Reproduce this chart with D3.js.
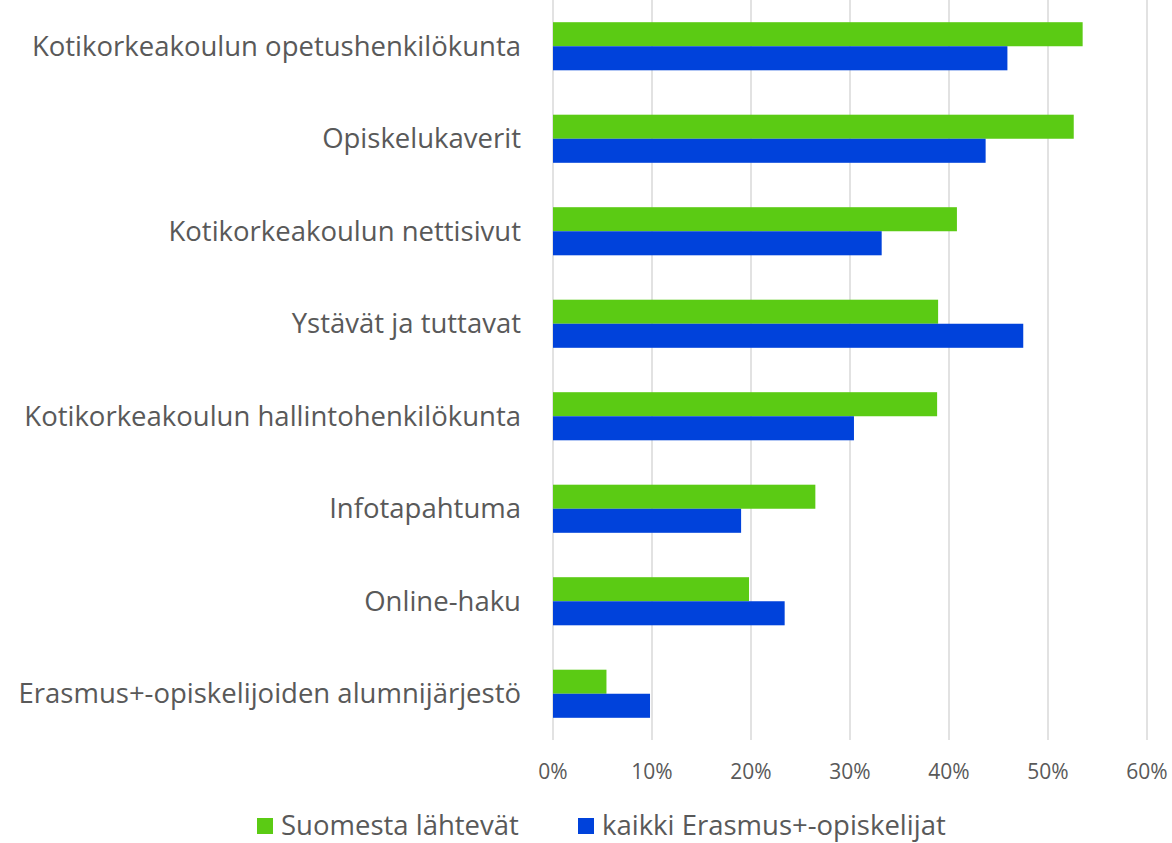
<!DOCTYPE html>
<html>
<head>
<meta charset="utf-8">
<script src="https://cdn.jsdelivr.net/npm/d3@7"></script>
<style>
  body { margin: 0; background: #fff; }
  text { font-family: "Open Sans", "Noto Sans", sans-serif; fill: #595959; }
</style>
</head>
<body>
<div id="chart"></div>
<script>
// data (percent)
const categories = [
  "Kotikorkeakoulun opetushenkilökunta",
  "Opiskelukaverit",
  "Kotikorkeakoulun nettisivut",
  "Ystävät ja tuttavat",
  "Kotikorkeakoulun hallintohenkilökunta",
  "Infotapahtuma",
  "Online-haku",
  "Erasmus+-opiskelijoiden alumnijärjestö"
];
const suomesta = [53.5, 52.6, 40.8, 38.9, 38.8, 26.5, 19.8, 5.4];
const kaikki = [45.9, 43.7, 33.2, 47.5, 30.4, 19.0, 23.4, 9.8];
const seriesNames = ["Suomesta lähtevät", "kaikki Erasmus+-opiskelijat"];
const seriesColors = ["#5bcb14", "#0042db"];
const xTicks = [0, 10, 20, 30, 40, 50, 60];

const width = 1172, height = 843;
const margin = { top: 0, right: 25, bottom: 103, left: 553 };

const svg = d3.select("#chart").append("svg")
    .attr("width", width)
    .attr("height", height);

const x = d3.scaleLinear().domain([0, 60]).range([margin.left, width - margin.right]);
const y = d3.scaleBand().domain(categories).range([margin.top, height - margin.bottom])
    .paddingInner(0.48).paddingOuter(0.24);
const sub = d3.scaleBand().domain([0, 1]).range([0, y.bandwidth()]);

// gridlines
svg.append("g")
    .selectAll("line")
    .data(xTicks)
    .join("line")
    .attr("x1", d => x(d)).attr("x2", d => x(d))
    .attr("y1", margin.top).attr("y2", height - margin.bottom)
    .attr("stroke", "#d9d9d9")
    .attr("stroke-width", 1.5);

// bars
const series = [suomesta, kaikki];
series.forEach((vals, si) => {
    svg.append("g")
        .selectAll("rect")
        .data(vals)
        .join("rect")
        .attr("x", x(0))
        .attr("y", (d, i) => y(categories[i]) + sub(si))
        .attr("width", d => x(d) - x(0))
        .attr("height", sub.bandwidth())
        .attr("fill", seriesColors[si]);
});

// x tick labels
svg.append("g")
    .selectAll("text")
    .data(xTicks)
    .join("text")
    .attr("x", d => x(d))
    .attr("y", 772)
    .attr("dy", "0.35em")
    .attr("text-anchor", "middle")
    .style("font-size", "21px")
    .text(d => d + "%");

// category labels
svg.append("g")
    .selectAll("text")
    .data(categories)
    .join("text")
    .attr("x", 521)
    .attr("y", d => y(d) + y.bandwidth() / 2)
    .attr("dy", "0.35em")
    .attr("text-anchor", "end")
    .style("font-size", "27.5px")
    .text(d => d);

// legend
const legendX = [257, 578];
const legend = svg.append("g")
    .selectAll("g")
    .data(seriesNames)
    .join("g")
    .attr("transform", (d, i) => `translate(${legendX[i]},825)`);
legend.append("rect")
    .attr("x", 0).attr("y", -7)
    .attr("width", 16).attr("height", 16)
    .attr("fill", (d, i) => seriesColors[i]);
legend.append("text")
    .attr("x", 24)
    .attr("dy", "0.35em")
    .style("font-size", "27.5px")
    .text(d => d);
</script>
</body>
</html>
